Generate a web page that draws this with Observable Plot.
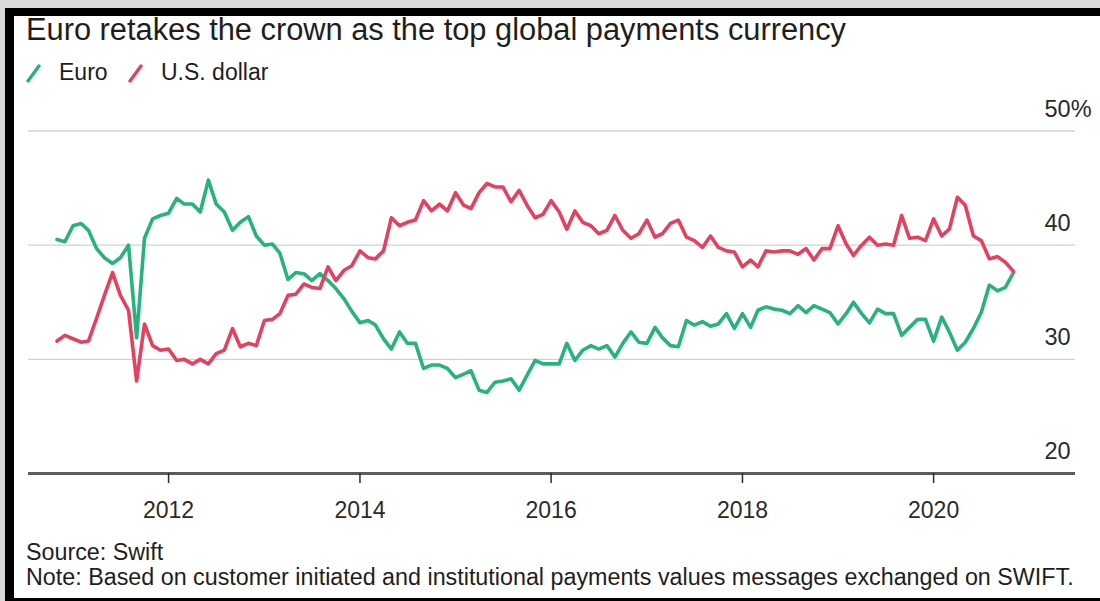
<!DOCTYPE html>
<html>
<head>
<meta charset="utf-8">
<script src="https://cdn.jsdelivr.net/npm/d3@7"></script>
<script src="https://cdn.jsdelivr.net/npm/@observablehq/plot@0.6"></script>
<style>
  html, body { margin: 0; padding: 0; width: 1100px; height: 601px; overflow: hidden; background: #d9d9d7;
    font-family: "Liberation Sans", Arial, Helvetica, sans-serif; }
  #frame { position: absolute; left: 5px; top: 8px; width: 1200px; height: 700px; background: #000; }
  #card { position: absolute; left: 14px; top: 16px; width: 1200px; height: 582px; background: #fff; }
  .t { position: absolute; white-space: nowrap; color: #1e1e1e; }
  #title { left: 26px; top: 15px; font-size: 30.8px; line-height: 30px; }
  .leg { top: 60.5px; font-size: 23px; line-height: 23px; }
  .sw { position: absolute; top: 63px; }
  #source { left: 26px; top: 540.5px; font-size: 23.3px; line-height: 23px; }
  #note { left: 26px; top: 565.5px; font-size: 23.3px; line-height: 23px; }
  #chart { position: absolute; left: 0; top: 90px; }
</style>
</head>
<body>
<div id="frame"></div>
<div id="card"></div>
<div class="t" id="title">Euro retakes the crown as the top global payments currency</div>
<div id="legend"></div>
<div id="chart"></div>
<div class="t" id="source">Source: Swift</div>
<div class="t" id="note">Note: Based on customer initiated and institutional payments values messages exchanged on SWIFT.</div>
<script>
const seriesNames = ["Euro", "U.S. dollar"];
const seriesColors = ["#27b37e", "#e5415f"];
const startYear = 2010, startMonth = 10; // November 2010, monthly

const euro = [
  40.5, 40.3, 41.7, 41.9, 41.3, 39.7, 38.9, 38.4, 38.9, 40.0,
  31.9, 40.6, 42.3, 42.6, 42.8, 44.1, 43.6, 43.6, 42.9, 45.7,
  43.6, 42.9, 41.3, 42.0, 42.5, 40.8, 40.0, 40.1, 39.3, 37.0,
  37.6, 37.5, 36.9, 37.5, 36.9, 36.2, 35.3, 34.2, 33.2, 33.4,
  33.0, 31.8, 30.9, 32.4, 31.4, 31.4, 29.2, 29.5, 29.5, 29.2,
  28.4, 28.7, 29.0, 27.3, 27.1, 28.0, 28.1, 28.3, 27.3, 28.6,
  29.9, 29.6, 29.6, 29.6, 31.4, 29.9, 30.8, 31.2, 30.9, 31.2,
  30.2, 31.4, 32.4, 31.5, 31.4, 32.8, 31.9, 31.2, 31.1, 33.4,
  33.0, 33.3, 32.9, 33.1, 34.0, 32.7, 34.0, 32.8, 34.3, 34.6,
  34.4, 34.3, 34.0, 34.7, 34.1, 34.7, 34.4, 34.1, 33.1, 34.0,
  35.0, 34.0, 33.2, 34.4, 34.0, 34.0, 32.1, 32.8, 33.5, 33.5,
  31.6, 33.7, 32.4, 30.8, 31.5, 32.7, 34.1, 36.5, 36.0, 36.3,
  37.6
];
const dollar = [
  31.6, 32.1, 31.8, 31.5, 31.6, 33.6, 35.6, 37.6, 35.6, 34.3,
  28.1, 33.1, 31.2, 30.8, 30.9, 29.9, 30.0, 29.6, 30.0, 29.6,
  30.5, 30.8, 32.7, 31.1, 31.4, 31.2, 33.4, 33.5, 34.0, 35.6,
  35.7, 36.6, 36.3, 36.2, 38.1, 36.9, 37.8, 38.2, 39.5, 38.9,
  38.8, 39.5, 42.4, 41.7, 42.0, 42.2, 43.9, 43.0, 43.6, 43.0,
  44.6, 43.5, 43.2, 44.6, 45.4, 45.1, 45.1, 43.8, 44.8, 43.5,
  42.4, 42.7, 43.9, 42.9, 41.4, 43.0, 42.0, 41.7, 41.0, 41.3,
  42.6, 41.3, 40.6, 41.0, 42.2, 40.7, 41.0, 41.9, 42.2, 40.7,
  40.4, 39.8, 40.8, 39.8, 39.5, 39.4, 38.1, 38.7, 38.1, 39.5,
  39.4, 39.5, 39.5, 39.2, 39.7, 38.7, 39.7, 39.7, 41.7, 40.1,
  39.1, 40.0, 40.7, 40.0, 40.1, 40.0, 42.6, 40.6, 40.7, 40.4,
  42.3, 40.8, 41.4, 44.2, 43.5, 40.8, 40.4, 38.8, 39.0, 38.5,
  37.7
];
const xTickYears = [2012, 2014, 2016, 2018, 2020];
const yTicks = [20, 30, 40, 50];

// Legend
const legend = document.getElementById("legend");
const legendX = [[26, 59], [128, 161]];
seriesNames.forEach((name, i) => {
  const sw = document.createElementNS("http://www.w3.org/2000/svg", "svg");
  sw.setAttribute("class", "sw");
  sw.setAttribute("width", 18); sw.setAttribute("height", 22);
  sw.style.left = legendX[i][0] + "px";
  sw.innerHTML = `<line x1="2" y1="18" x2="13" y2="3" stroke="${seriesColors[i]}" stroke-width="3.4" stroke-linecap="round"/>`;
  legend.appendChild(sw);
  const lab = document.createElement("div");
  lab.className = "t leg";
  lab.style.left = legendX[i][1] + "px";
  lab.textContent = name;
  legend.appendChild(lab);
});

const rows = [];
euro.forEach((v, i) => rows.push({date: new Date(Date.UTC(startYear, startMonth + i, 1)), value: v, series: seriesNames[0]}));
dollar.forEach((v, i) => rows.push({date: new Date(Date.UTC(startYear, startMonth + i, 1)), value: v, series: seriesNames[1]}));
const xTicks = xTickYears.map(y => new Date(Date.UTC(y, 0, 1)));

const chart = Plot.plot({
  width: 1100,
  height: 433,
  marginLeft: 28,
  marginRight: 25,
  marginTop: 40.5,
  marginBottom: 50,
  x: {type: "utc", domain: [new Date(Date.UTC(2010, 6, 15)), new Date(Date.UTC(2021, 5, 26))], label: null},
  y: {domain: [20, 50], label: null},
  color: {domain: seriesNames, range: seriesColors},
  style: {background: "transparent", fontFamily: "'Liberation Sans', Arial, Helvetica, sans-serif", overflow: "visible", color: "#222"},
  marks: [
    Plot.ruleY(yTicks.filter(v => v > 20), {stroke: "#d2d2d2", strokeWidth: 1.3}),
    Plot.ruleY([20], {stroke: "#5c5c5c", strokeWidth: 3}),
    Plot.axisX(xTicks, {tickSize: 10, tickPadding: 18, tickFormat: d => String(d.getUTCFullYear()), fontSize: 23, color: "#2a2a2a", strokeWidth: 1.5, label: null}),
    Plot.axisY(yTicks, {anchor: "right", tickSize: 0, tickPadding: 0, dx: -31, dy: -22, textAnchor: "start",
      tickFormat: d => d === 50 ? "50%" : String(d), fontSize: 23.5, color: "#2a2a2a", label: null}),
    Plot.line(rows, {x: "date", y: "value", stroke: "series", z: "series", strokeWidth: 3.6, strokeLinejoin: "round", strokeLinecap: "round"})
  ]
});
document.getElementById("chart").appendChild(chart);
</script>
</body>
</html>
